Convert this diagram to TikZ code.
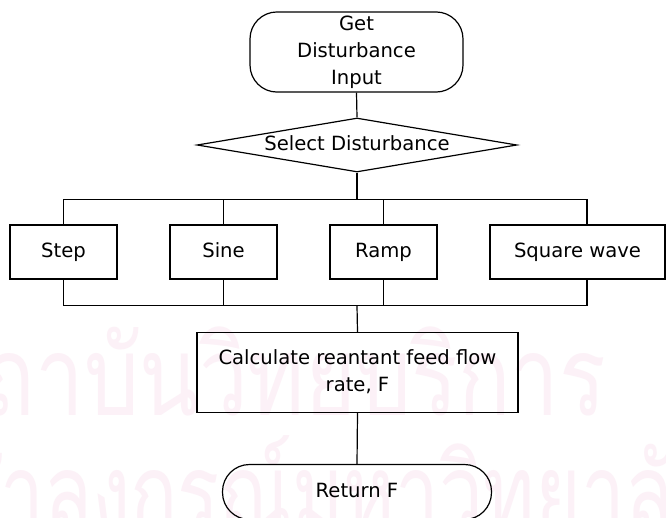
\documentclass[tikz,border=0pt]{standalone}
\usepackage{fontspec}
\setmainfont{DejaVu Sans}
\newfontfamily\thaifont[Script=Thai]{Loma}
\usetikzlibrary{shapes.geometric}
\definecolor{wmpink}{RGB}{252,241,247}

\begin{document}
\begin{tikzpicture}[x=1pt,y=-1pt,line width=1.2pt,
  every node/.style={font=\fontsize{19.6}{26.7}\selectfont,align=center,inner sep=0pt},
  oneline/.style={text height=14.5pt,text depth=4pt},
  term/.style={draw,rounded corners=27pt},
  proc/.style={draw,minimum height=54pt},
  decide/.style={draw,diamond,shape aspect=5.9,minimum width=320pt,minimum height=54pt},
  wm/.style={text=wmpink,font=\thaifont\fontsize{87}{87}\selectfont}]
\path [use as bounding box,fill=white] (0,0) rectangle (666,517);
% faint lettering behind the chart
\node [wm,anchor=base east] (wma) at (607,415) {\scalebox{1}[1.27]{สถาบันวิทยบริการ}};
\node [wm,anchor=base west] (wmb) at (-100,532) {\scalebox{0.9}[1.27]{จุฬาลงกรณ์มหาวิทยาลัย}};

% chart
\node [term,minimum width=213pt,minimum height=80pt] (get) at (356.5,52) {Get\strut\\Disturbance\strut\\Input\strut};
\node [decide,oneline] (sel) at (357,145) {Select Disturbance};
\node [proc,oneline,minimum width=107pt] (step) at (63.5,252) {Step};
\node [proc,oneline,minimum width=107pt] (sine) at (223.5,252) {Sine};
\node [proc,oneline,minimum width=107pt] (ramp) at (383.5,252) {Ramp};
\node [proc,oneline,minimum width=175pt] (sqw) at (577.5,252) {Square wave};
\node [proc,minimum width=321pt,minimum height=80pt] (calc) at (357.5,372.5) {Calculate reantant feed flow\strut\\rate, F\strut};
\node [term,oneline,minimum width=269pt,minimum height=55pt] (ret) at (357,492) {Return F};

\coordinate (bt) at (357,199.5);
\coordinate (bb) at (357,305.7);
\coordinate (sqx) at (587,252);

\draw (get.south) -- (sel.north);
\draw (sel.south) -- (bt);
\draw (step.north) |- (sqx |- bt) -- (sqx |- sqw.north);
\draw (sine.north) -- (sine.north |- bt);
\draw (ramp.north) -- (ramp.north |- bt);
\draw (step.south) |- (sqx |- bb) -- (sqx |- sqw.south);
\draw (sine.south) -- (sine.south |- bb);
\draw (ramp.south) -- (ramp.south |- bb);
\draw (bb) -- (calc.north);
\draw (calc.south) -- (ret.north);
\end{tikzpicture}
\end{document}
